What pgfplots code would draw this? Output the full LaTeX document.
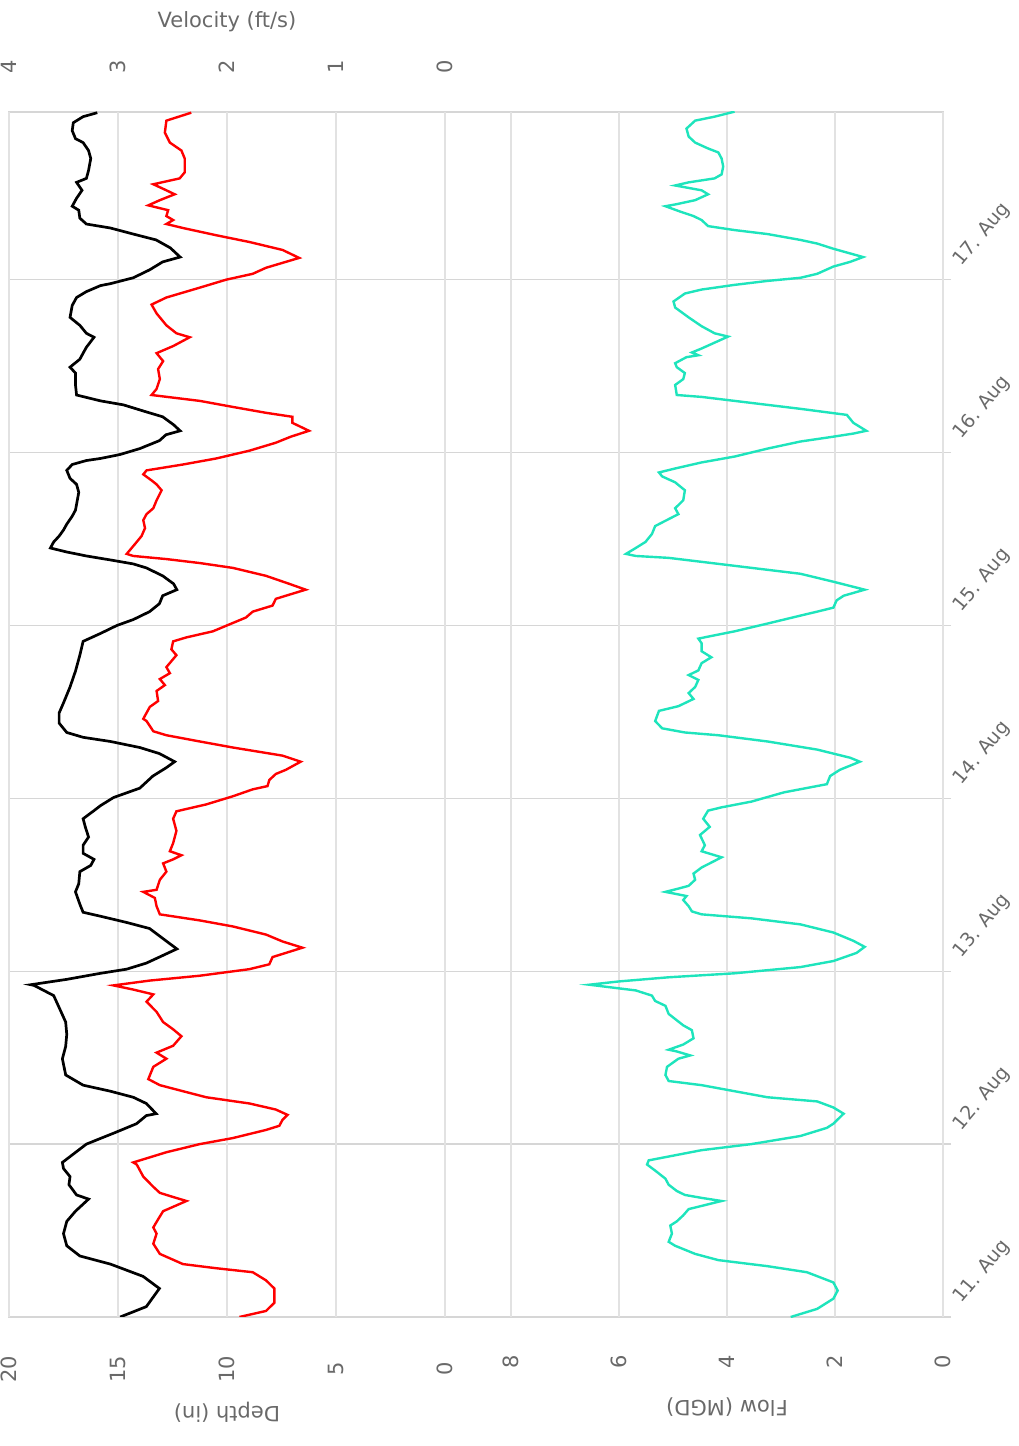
\documentclass[border=0pt]{standalone}
\usepackage{pgfplots}
\usepackage{pgfplotstable}
\usepackage{fontspec}
\setmainfont{DejaVu Sans}
\pgfplotsset{compat=1.18}
\definecolor{txt}{RGB}{105,105,105}
\definecolor{gridc}{RGB}{214,214,214}
\definecolor{gridv}{RGB}{226,226,226}
\definecolor{flowc}{RGB}{30,228,188}

\pgfplotstableread{
t v
0.00 2.98
0.06 2.74
0.165 2.62
0.235 2.77
0.306 3.07
0.353 3.35
0.412 3.47
0.482 3.50
0.553 3.47
0.612 3.39
0.682 3.27
0.706 3.38
0.765 3.45
0.812 3.44
0.859 3.50
0.894 3.51
1.0 3.29
1.071 3.01
1.118 2.83
1.165 2.74
1.176 2.65
1.235 2.74
1.271 2.86
1.306 3.07
1.341 3.32
1.40 3.48
1.494 3.51
1.565 3.48
1.635 3.47
1.706 3.48
1.776 3.53
1.859 3.59
1.918 3.77
1.922 3.80
1.953 3.47
1.988 3.16
2.012 2.92
2.047 2.74
2.082 2.62
2.129 2.46
2.176 2.56
2.247 2.71
2.282 2.92
2.318 3.16
2.341 3.32
2.388 3.35
2.459 3.39
2.506 3.36
2.576 3.35
2.612 3.25
2.647 3.22
2.682 3.32
2.729 3.32
2.776 3.27
2.835 3.30
2.882 3.32
2.929 3.22
2.958 3.16
3.005 3.04
3.059 2.80
3.129 2.68
3.176 2.56
3.212 2.48
3.259 2.62
3.294 2.80
3.329 3.07
3.353 3.32
3.381 3.47
3.435 3.54
3.494 3.54
3.552 3.50
3.644 3.44
3.736 3.39
3.828 3.35
3.908 3.32
3.954 3.16
4.0 3.01
4.034 2.86
4.080 2.71
4.126 2.62
4.172 2.59
4.207 2.46
4.241 2.49
4.287 2.59
4.333 2.74
4.356 2.86
4.379 3.07
4.402 3.29
4.425 3.47
4.448 3.62
4.483 3.59
4.517 3.54
4.552 3.50
4.586 3.47
4.632 3.42
4.667 3.39
4.701 3.38
4.770 3.36
4.816 3.38
4.851 3.44
4.897 3.47
4.931 3.42
4.954 3.29
4.966 3.16
4.989 2.98
5.023 2.80
5.069 2.62
5.103 2.56
5.126 2.43
5.161 2.49
5.207 2.59
5.241 2.77
5.276 2.95
5.299 3.16
5.333 3.38
5.391 3.39
5.460 3.39
5.494 3.44
5.540 3.35
5.575 3.32
5.609 3.29
5.667 3.22
5.690 3.29
5.736 3.35
5.782 3.44
5.851 3.42
5.897 3.38
5.931 3.29
5.966 3.16
5.977 3.07
6.011 2.86
6.057 2.71
6.103 2.59
6.131 2.43
6.184 2.52
6.230 2.65
6.264 2.86
6.299 3.07
6.322 3.29
6.356 3.35
6.402 3.36
6.425 3.42
6.471 3.38
6.517 3.33
6.563 3.38
6.586 3.29
6.632 3.27
6.701 3.25
6.747 3.27
6.793 3.32
6.816 3.39
6.862 3.42
6.908 3.41
6.943 3.32
6.966 3.19
}\veltab

\pgfplotstableread{
t d
0.00 9.43
0.035 8.21
0.082 7.83
0.165 7.83
0.212 8.21
0.259 8.82
0.282 10.49
0.306 12.02
0.365 13.08
0.424 13.38
0.482 13.23
0.518 13.38
0.565 13.16
0.612 12.93
0.671 11.86
0.694 12.47
0.718 13.08
0.753 13.38
0.812 13.84
0.882 14.14
0.894 14.30
0.953 12.78
1.0 11.25
1.035 9.73
1.082 8.21
1.106 7.60
1.141 7.45
1.169 7.22
1.2 7.76
1.235 8.97
1.271 10.95
1.306 12.02
1.341 13.08
1.376 13.61
1.447 13.38
1.494 12.78
1.529 13.23
1.569 12.47
1.624 12.09
1.664 12.47
1.706 12.93
1.765 13.23
1.824 13.69
1.866 13.38
1.894 14.30
1.918 15.21
1.946 13.54
1.974 11.25
2.012 8.97
2.040 8.06
2.082 7.91
2.136 6.54
2.172 7.45
2.212 8.21
2.259 9.73
2.294 11.25
2.329 13.08
2.376 13.23
2.424 13.31
2.459 13.84
2.471 13.23
2.529 13.08
2.576 12.78
2.624 12.93
2.647 12.47
2.671 12.09
2.694 12.62
2.741 12.47
2.812 12.32
2.882 12.47
2.925 12.32
2.965 10.95
3.012 9.73
3.052 8.82
3.071 8.14
3.106 8.06
3.141 7.76
3.165 7.30
3.212 6.62
3.247 7.45
3.294 9.73
3.329 11.25
3.365 12.78
3.388 13.38
3.447 13.69
3.46 13.84
3.529 13.54
3.563 13.16
3.621 13.23
3.655 12.85
3.690 13.08
3.724 12.62
3.759 12.78
3.828 12.32
3.862 12.55
3.908 12.47
3.931 11.86
3.966 10.65
4.046 9.13
4.080 8.82
4.115 7.91
4.154 7.76
4.172 7.30
4.207 6.39
4.241 7.15
4.287 8.21
4.333 9.73
4.361 11.25
4.384 12.78
4.402 14.30
4.414 14.60
4.471 14.22
4.517 13.92
4.563 13.76
4.609 13.84
4.644 13.69
4.678 13.38
4.724 13.23
4.782 13.00
4.816 13.23
4.839 13.46
4.874 13.84
4.897 13.69
4.931 12.02
4.966 10.49
5.011 8.97
5.057 7.76
5.092 7.07
5.126 6.24
5.172 7.00
5.207 7.00
5.230 8.21
5.264 9.73
5.299 11.25
5.333 13.46
5.368 13.23
5.425 13.08
5.483 13.16
5.529 12.93
5.575 13.23
5.616 12.47
5.667 11.71
5.690 12.32
5.736 12.78
5.805 13.23
5.856 13.46
5.897 12.78
5.954 11.25
6.0 10.04
6.034 8.82
6.069 8.21
6.126 6.69
6.172 7.45
6.218 8.97
6.257 10.49
6.299 12.02
6.322 12.78
6.345 12.47
6.368 12.78
6.402 12.70
6.430 13.61
6.460 13.08
6.494 12.40
6.517 12.78
6.552 13.38
6.586 12.17
6.621 11.94
6.701 11.94
6.747 12.09
6.793 12.62
6.851 12.85
6.920 12.78
6.966 11.64
}\deptab

\pgfplotstableread{
t f
0.0 2.82
0.047 2.33
0.106 2.03
0.153 1.95
0.2 2.03
0.259 2.52
0.294 3.25
0.329 4.16
0.365 4.59
0.412 4.96
0.435 5.08
0.482 5.02
0.529 5.05
0.553 4.93
0.588 4.81
0.624 4.71
0.671 4.10
0.689 4.47
0.706 4.78
0.729 4.93
0.765 5.08
0.8 5.14
0.847 5.33
0.882 5.48
0.906 5.45
0.965 4.47
1.0 3.55
1.047 2.64
1.094 2.15
1.118 2.03
1.176 1.84
1.212 2.03
1.247 2.33
1.271 3.25
1.306 3.86
1.341 4.47
1.365 5.08
1.4 5.14
1.447 5.11
1.494 4.90
1.513 4.68
1.536 4.93
1.546 5.08
1.576 4.81
1.612 4.62
1.659 4.65
1.687 4.81
1.753 5.08
1.8 5.14
1.828 5.33
1.859 5.39
1.889 5.69
1.922 6.55
1.941 6.00
1.965 5.08
1.988 3.86
2.024 2.64
2.059 2.03
2.106 1.60
2.141 1.45
2.176 1.66
2.224 2.03
2.271 2.64
2.306 3.55
2.329 4.47
2.346 4.65
2.376 4.71
2.412 4.81
2.435 4.75
2.459 5.14
2.478 4.90
2.494 4.71
2.529 4.59
2.565 4.62
2.6 4.47
2.659 4.10
2.694 4.47
2.729 4.41
2.788 4.50
2.835 4.32
2.882 4.44
2.929 4.35
2.948 4.10
2.981 3.55
3.035 2.94
3.082 2.15
3.129 2.09
3.165 1.91
3.212 1.54
3.235 1.72
3.282 2.33
3.329 3.25
3.365 4.16
3.381 4.78
3.405 5.20
3.447 5.33
3.506 5.26
3.533 4.90
3.575 4.62
3.609 4.71
3.644 4.59
3.685 4.53
3.713 4.71
3.740 4.53
3.782 4.47
3.816 4.29
3.851 4.47
3.897 4.47
3.924 4.53
3.966 3.86
4.011 3.25
4.057 2.64
4.080 2.33
4.103 2.03
4.145 1.97
4.172 1.84
4.207 1.45
4.253 2.03
4.299 2.64
4.322 3.25
4.345 3.86
4.368 4.47
4.391 5.08
4.402 5.69
4.414 5.87
4.448 5.69
4.483 5.51
4.529 5.39
4.575 5.33
4.644 4.90
4.678 4.96
4.724 4.81
4.782 4.78
4.828 4.96
4.862 5.20
4.885 5.26
4.908 4.96
4.943 4.47
4.977 3.86
5.023 3.25
5.064 2.64
5.092 2.03
5.110 1.66
5.126 1.42
5.172 1.66
5.218 1.78
5.253 2.64
5.276 3.25
5.299 3.86
5.322 4.47
5.333 4.93
5.391 4.96
5.425 4.81
5.460 4.78
5.494 4.93
5.517 4.96
5.552 4.75
5.563 4.53
5.579 4.65
5.602 4.47
5.671 3.98
5.690 4.23
5.731 4.47
5.782 4.71
5.839 4.96
5.874 4.99
5.920 4.78
5.943 4.47
5.970 3.86
5.993 3.25
6.011 2.64
6.034 2.33
6.076 2.03
6.103 1.72
6.131 1.48
6.179 2.03
6.209 2.33
6.230 2.64
6.264 3.25
6.287 3.86
6.310 4.35
6.345 4.47
6.368 4.62
6.391 4.84
6.425 5.14
6.437 4.93
6.460 4.59
6.494 4.35
6.517 4.47
6.545 4.96
6.563 4.71
6.586 4.23
6.609 4.10
6.655 4.07
6.701 4.10
6.736 4.16
6.759 4.35
6.793 4.59
6.828 4.71
6.874 4.75
6.920 4.59
6.943 4.23
6.972 3.86
}\flowtab

\begin{document}
\begin{tikzpicture}
\path[use as bounding box] (0,0) rectangle (509pt,723pt);
% frame with day grid lines and date labels
\begin{axis}[
  at={(4.5pt,64.5pt)}, anchor=south west, scale only axis,
  width=467pt, height=602.5pt,
  xmin=0, xmax=1, ymin=0, ymax=6.97,
  xtick=\empty, ytick={0,1,2,3,4,5,6},
  yticklabels={11. Aug,12. Aug,13. Aug,14. Aug,15. Aug,16. Aug,17. Aug},
  ymajorgrids, grid style={draw=gridc, line width=0.7pt},
  axis line style={draw=gridc, line width=0.7pt},
  ytick pos=right, yticklabel pos=right, tick align=outside,
  major tick length=4pt, tick style={draw=gridc, line width=0.7pt},
  yticklabel style={rotate=50, anchor=base west, text=txt, font=\fontsize{9.5}{11}\selectfont, xshift=5pt},
]
\end{axis}
% depth
\begin{axis}[
  at={(4.5pt,64.5pt)}, anchor=south west, scale only axis,
  width=218pt, height=602.5pt,
  xmin=0, xmax=20, x dir=reverse, ymin=0, ymax=6.97,
  xtick={0,5,10,15,20}, xticklabels={0,5,10,15,20}, ytick=\empty,
  xmajorgrids, grid style={draw=gridv, line width=0.7pt},
  axis line style={draw=none}, tick style={draw=none},
  xticklabel style={rotate=90, anchor=center, text=txt, font=\fontsize{10.5}{12}\selectfont},
  xticklabel shift=26pt,
  xlabel={Depth (in)},
  xlabel style={at={(axis description cs:0.5,-0.079)}, anchor=center, rotate=180, text=txt, font=\fontsize{10.5}{12}\selectfont},
]
\addplot[red, line width=1.2pt] table[x=d, y=t] {\deptab};
\end{axis}
% velocity
\begin{axis}[
  at={(4.5pt,64.5pt)}, anchor=south west, scale only axis,
  width=218pt, height=602.5pt,
  xmin=0, xmax=4, x dir=reverse, ymin=0, ymax=6.97,
  xtick={0,1,2,3,4}, xticklabels={0,1,2,3,4}, ytick=\empty,
  xtick pos=upper, xticklabel pos=upper,
  axis line style={draw=none}, tick style={draw=none},
  xticklabel style={rotate=90, anchor=center, text=txt, font=\fontsize{10.5}{12}\selectfont},
  xticklabel shift=22.5pt,
  xlabel={Velocity (ft/s)},
  xlabel style={at={(axis description cs:0.5,1.075)}, anchor=center, rotate=0, text=txt, font=\fontsize{10.5}{12}\selectfont},
]
\addplot[black, line width=1.35pt] table[x=v, y=t] {\veltab};
\end{axis}
% flow
\begin{axis}[
  at={(255.5pt,64.5pt)}, anchor=south west, scale only axis,
  width=216pt, height=602.5pt,
  xmin=0, xmax=8, x dir=reverse, ymin=0, ymax=6.97,
  xtick={0,2,4,6,8}, xticklabels={0,2,4,6,8}, ytick=\empty,
  xmajorgrids, grid style={draw=gridv, line width=0.7pt},
  axis line style={draw=none}, tick style={draw=none},
  xticklabel style={rotate=90, anchor=center, text=txt, font=\fontsize{10.5}{12}\selectfont},
  xticklabel shift=22.5pt,
  xlabel={Flow (MGD)},
  xlabel style={at={(axis description cs:0.5,-0.075)}, anchor=center, rotate=180, text=txt, font=\fontsize{10.5}{12}\selectfont},
]
\addplot[flowc, line width=1.2pt] table[x=f, y=t] {\flowtab};
\end{axis}
\end{tikzpicture}
\end{document}
